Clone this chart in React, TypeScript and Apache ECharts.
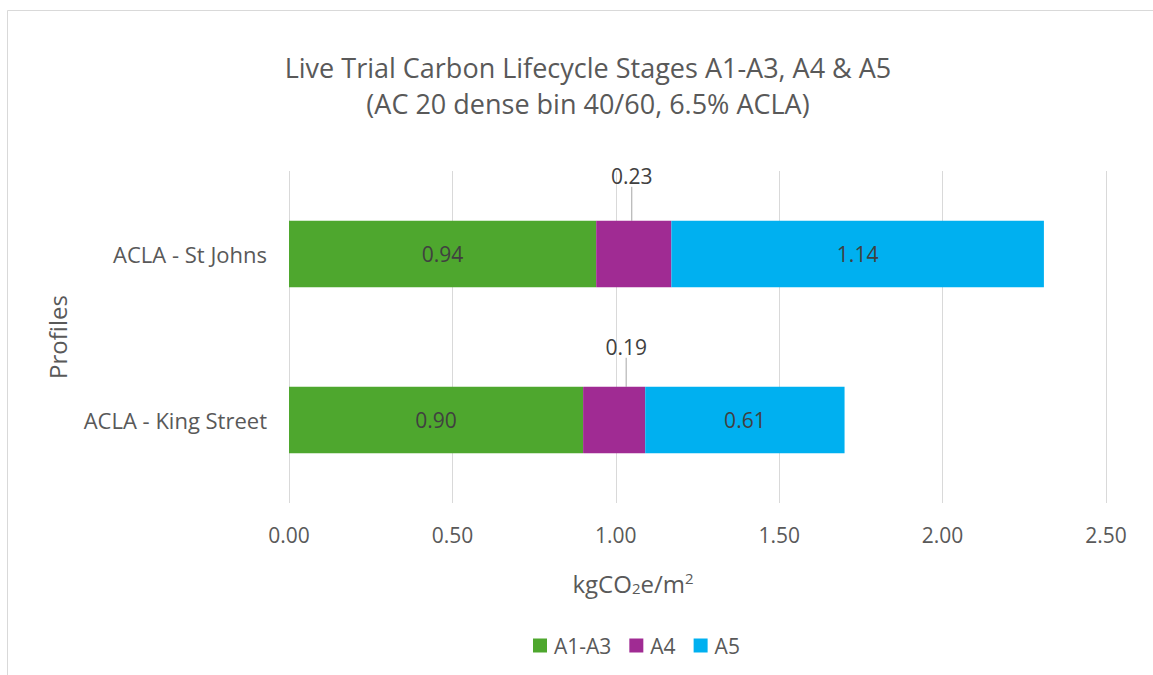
import React, { useEffect, useRef } from "react";
import * as echarts from "echarts";

const categories = ["ACLA - King Street", "ACLA - St Johns"];
const seriesNames = ["A1-A3", "A4", "A5"];
const a1a3 = [0.9, 0.94];
const a4 = [0.19, 0.23];
const a5 = [0.61, 1.14];
const colors = ["#4EA72E", "#A02B93", "#00B0F0"];
const titleLines = ["Live Trial Carbon Lifecycle Stages A1-A3, A4 & A5", "(AC 20 dense bin 40/60, 6.5% ACLA)"];

const FONT = "'Open Sans', 'Noto Sans', sans-serif";
const TXT = "#595959";
const LBL = 21;

export default function App() {
  const ref = useRef<HTMLDivElement>(null);
  useEffect(() => {
    document.body.style.margin = "0";
    const chart = echarts.init(ref.current!, undefined, { renderer: "svg" });
    const a4Offsets = [
      { dx: 12, dy: -24 },
      { dx: -2, dy: -29 },
    ];
    chart.setOption({
      animation: false,
      backgroundColor: "#ffffff",
      textStyle: { fontFamily: FONT, color: TXT },
      title: {
        text: titleLines.join("\n"),
        left: 583,
        top: 44,
        textAlign: "center",
        textStyle: { fontFamily: FONT, fontSize: 27, fontWeight: "normal", color: TXT, lineHeight: 36 },
      },
      graphic: [
        {
          type: "rect",
          shape: { x: 7.5, y: 10.5, width: 1200, height: 700 },
          style: { fill: "none", stroke: "#d9d9d9", lineWidth: 1 },
          silent: true,
        },
        {
          type: "text",
          x: 633,
          y: 583,
          style: {
            text: "{a|kgCO}{s|2}{a|e/m}{p|2}",
            align: "center",
            verticalAlign: "middle",
            rich: {
              a: { fontSize: 24, fontFamily: FONT, fill: TXT },
              s: { fontSize: 15, fontFamily: FONT, fill: TXT, padding: [10, 0, 0, 0] },
              p: { fontSize: 15, fontFamily: FONT, fill: TXT, padding: [0, 0, 10, 0] },
            },
          },
        },
      ],
      legend: {
        data: seriesNames,
        left: 528,
        top: 630,
        icon: "rect",
        itemWidth: 14,
        itemHeight: 14,
        itemGap: 18,
        textStyle: { fontFamily: FONT, fontSize: LBL, color: TXT, padding: [0, 0, 0, 2] },
      },
      grid: { left: 289, right: 47, top: 171, bottom: 172, containLabel: false },
      xAxis: {
        type: "value",
        min: 0,
        max: 2.5,
        interval: 0.5,
        axisLine: { show: false },
        axisTick: { show: false },
        axisLabel: {
          formatter: (v: number) => v.toFixed(2),
          fontSize: LBL,
          color: TXT,
          fontFamily: FONT,
          margin: 21,
        },
        splitLine: { show: true, lineStyle: { color: "#d9d9d9", width: 1 } },
      },
      yAxis: {
        type: "category",
        data: categories,
        axisLine: { show: false },
        axisTick: { show: false },
        axisLabel: { fontSize: 22, color: TXT, fontFamily: FONT, margin: 22 },
        name: "Profiles",
        nameLocation: "middle",
        nameGap: 220,
        nameRotate: 90,
        nameTextStyle: { fontSize: 24, color: TXT, fontFamily: FONT },
      },
      series: [
        {
          name: seriesNames[0],
          type: "bar",
          stack: "total",
          data: a1a3,
          barCategoryGap: "60%",
          itemStyle: { color: colors[0] },
          label: {
            show: true,
            position: "inside",
            formatter: (p: any) => p.value.toFixed(2),
            fontSize: LBL,
            color: "#404040",
            fontFamily: FONT,
          },
        },
        {
          name: seriesNames[1],
          type: "bar",
          stack: "total",
          data: a4,
          itemStyle: { color: colors[1] },
          label: {
            show: true,
            position: "top",
            formatter: (p: any) => p.value.toFixed(2),
            fontSize: LBL,
            color: "#404040",
            fontFamily: FONT,
          },
          labelLine: { show: true, lineStyle: { color: "#a6a6a6", width: 1 } },
          labelLayout: (p: any) => a4Offsets[p.dataIndex],
        },
        {
          name: seriesNames[2],
          type: "bar",
          stack: "total",
          data: a5,
          itemStyle: { color: colors[2] },
          label: {
            show: true,
            position: "inside",
            formatter: (p: any) => p.value.toFixed(2),
            fontSize: LBL,
            color: "#404040",
            fontFamily: FONT,
          },
        },
      ],
    });
    return () => chart.dispose();
  }, []);
  return <div ref={ref} style={{ width: 1153, height: 675 }} />;
}
